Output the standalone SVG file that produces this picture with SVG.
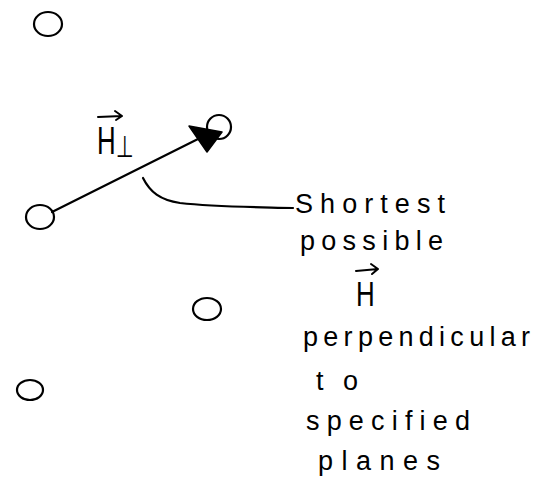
<svg xmlns="http://www.w3.org/2000/svg" width="550" height="482" viewBox="0 0 550 482">
  <style>
    .pt { fill: none; stroke: #000; stroke-width: 2.2; }
    .ln { fill: none; stroke: #000; stroke-width: 2.2; stroke-linecap: round; }
    .acc { fill: none; stroke: #000; stroke-width: 2; stroke-linecap: round; stroke-linejoin: round; }
    .hw { font-family: "Liberation Sans", "DejaVu Sans", sans-serif; font-size: 27px; fill: #000; }
    .sym { font-family: "Liberation Sans", "DejaVu Sans", sans-serif; fill: #000; }
  </style>
  <rect width="550" height="482" fill="#fff"/>

  <g id="point-top-left"><ellipse class="pt" cx="48" cy="24" rx="14" ry="12"/></g>
  <g id="point-arrow-tip"><ellipse class="pt" cx="219" cy="127" rx="12" ry="12"/></g>
  <g id="point-left"><ellipse class="pt" cx="40" cy="217" rx="14" ry="12"/></g>
  <g id="point-middle"><ellipse class="pt" cx="207" cy="309" rx="14" ry="11"/></g>
  <g id="point-bottom-left"><ellipse class="pt" cx="30" cy="390" rx="13" ry="10"/></g>

  <g id="connectors">
    <line class="ln" x1="52" y1="212" x2="200" y2="138"/>
    <polygon points="189,126 222,132 207,152" fill="#000" stroke="#000" stroke-width="1.5" stroke-linejoin="round"/>
    <path class="ln" d="M143,178 C150,192 160,200 180,203 C215,207 250,207 293,208" stroke-width="1.8"/>
  </g>

  <g id="label-hperp">
    <path class="acc" d="M98,117 L122,116 M115,111 L122,116 L116,120"/>
    <text class="sym" font-size="38" transform="translate(97,154) scale(0.68,1)">H<tspan font-size="30" dy="3">⊥</tspan></text>
  </g>

  <g id="annotation">
    <text class="hw" x="295" y="213" textLength="150" lengthAdjust="spacing">Shortest</text>
    <text class="hw" x="300" y="250" textLength="143" lengthAdjust="spacing">possible</text>
    <path class="acc" d="M356,271 L378,269 M371,264 L378,269 L372,274"/>
    <text class="sym" font-size="36" transform="translate(356,306) scale(0.72,1)">H</text>
    <text class="hw" x="303" y="346" textLength="227" lengthAdjust="spacing">perpendicular</text>
    <text class="hw" x="316" y="390" font-size="30" textLength="42" lengthAdjust="spacing">to</text>
    <text class="hw" x="306" y="430" textLength="164" lengthAdjust="spacing">specified</text>
    <text class="hw" x="318" y="470" textLength="122" lengthAdjust="spacing">planes</text>
  </g>
</svg>
